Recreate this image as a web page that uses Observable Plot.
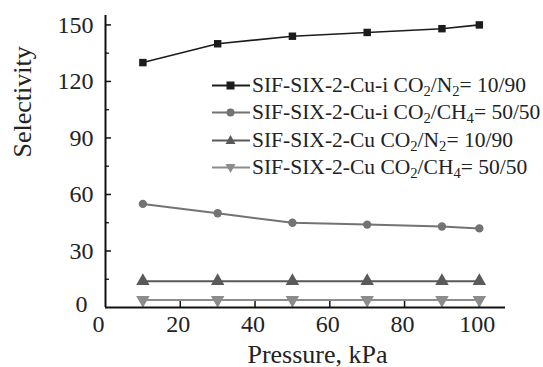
<!DOCTYPE html>
<html>
<head>
<meta charset="utf-8">
<script src="https://cdn.jsdelivr.net/npm/d3@7"></script>
<script src="https://cdn.jsdelivr.net/npm/@observablehq/plot@0.6"></script>
<style>
  html, body { margin: 0; padding: 0; background: #fff; }
  #wrap { position: relative; width: 543px; height: 367px; }
  #wrap, #wrap svg, #wrap text { font-family: "Liberation Serif", "Times New Roman", Times, serif !important; }
  #legend { position: absolute; left: 212px; top: 72px; font-size: 21.5px; color: #222; line-height: 27.3px; }
  #legend .row { display: flex; align-items: center; height: 27.3px; white-space: nowrap; }
  #legend svg { margin-right: 2px; }
  #legend sub { font-size: 0.68em; vertical-align: -0.28em; line-height: 0; }
</style>
</head>
<body>
<div id="wrap"><div id="legend"></div></div>
<script>
const pressure = [10, 30, 50, 70, 90, 100];
const cuiN2 = [130, 140, 144, 146, 148, 150];
const cuiCH4 = [55, 50, 45, 44, 43, 42];
const cuN2 = [14, 14, 14, 14, 14, 14];
const cuCH4 = [4, 4, 4, 4, 4, 4];
const seriesNames = [
  "SIF-SIX-2-Cu-i CO<sub>2</sub>/N<sub>2</sub>= 10/90",
  "SIF-SIX-2-Cu-i CO<sub>2</sub>/CH<sub>4</sub>= 50/50",
  "SIF-SIX-2-Cu CO<sub>2</sub>/N<sub>2</sub>= 10/90",
  "SIF-SIX-2-Cu CO<sub>2</sub>/CH<sub>4</sub>= 50/50"
];
const xTicks = [20, 40, 60, 80, 100];
const yTicks = [30, 60, 90, 120, 150];
const yMinor = [15, 45, 75, 105, 135];

const colors = ["#1c1c1c", "#737373", "#5a5a5a", "#8c8c8c"];

const triangleDown = {
  draw(context, size) {
    const s = Math.sqrt(size / (Math.sqrt(3) / 4));
    const h = s * Math.sqrt(3) / 2;
    context.moveTo(0, h * 2 / 3);
    context.lineTo(s / 2, -h / 3);
    context.lineTo(-s / 2, -h / 3);
    context.closePath();
  }
};
const triangleUp = {
  draw(context, size) {
    const s = Math.sqrt(size / (Math.sqrt(3) / 4));
    const h = s * Math.sqrt(3) / 2;
    context.moveTo(0, -h * 2 / 3);
    context.lineTo(s / 2, h / 3);
    context.lineTo(-s / 2, h / 3);
    context.closePath();
  }
};
const symbols = ["square", "circle", triangleUp, triangleDown];
const rs = [4.2, 4.2, 5, 5];

const allSeries = [cuiN2, cuiCH4, cuN2, cuCH4];
const data = allSeries.flatMap((vals, si) => vals.map((v, i) => ({s: si, x: pressure[i], y: v})));

const marks = [];
allSeries.forEach((vals, si) => {
  const d = data.filter(e => e.s === si);
  marks.push(Plot.line(d, {x: "x", y: "y", stroke: colors[si], strokeWidth: si === 0 ? 1.6 : 2}));
});
allSeries.forEach((vals, si) => {
  const d = data.filter(e => e.s === si);
  marks.push(Plot.dot(d, {x: "x", y: "y", fill: colors[si], stroke: "none", symbol: () => symbols[si], r: rs[si]}));
});

const chart = Plot.plot({
  width: 543,
  height: 367,
  marginLeft: 105,
  marginRight: 38,
  marginTop: 15,
  marginBottom: 60,
  style: {fontFamily: "'Liberation Serif', 'Times New Roman', serif", background: "white", color: "#222"},
  x: {domain: [0, 107]},
  y: {domain: [0, 155]},
  symbol: {type: "identity"},
  marks: [
    Plot.axisX(xTicks, {tickSize: 0, tickPadding: 7, fontSize: 24, label: null, dx: -2}),
    Plot.axisX([0], {tickSize: 0, tickPadding: 7, fontSize: 24, label: null, dx: -7}),
    Plot.axisY(yTicks, {tickSize: 0, tickPadding: 12, fontSize: 24, label: null}),
    Plot.axisY([0], {tickSize: 0, tickPadding: 18, fontSize: 24, label: null, dy: -3}),
    Plot.tickX(xTicks, {x: d => d, insetTop: 286, stroke: "#111", strokeWidth: 1.5}),
    Plot.tickY(yTicks, {y: d => d, insetRight: 394, stroke: "#111", strokeWidth: 1.5}),
    Plot.tickY(yMinor, {y: d => d, insetRight: 396, stroke: "#111", strokeWidth: 1.3}),
    ...marks,
    Plot.ruleX([0], {stroke: "#111", strokeWidth: 2}),
    Plot.ruleY([0], {stroke: "#111", strokeWidth: 2}),
    Plot.text(["Pressure, kPa"], {frameAnchor: "bottom", lineAnchor: "bottom", dy: 55, dx: 12, fontSize: 26, fill: "#222"}),
    Plot.text(["Selectivity"], {frameAnchor: "left", rotate: -90, dx: -83, dy: -4, fontSize: 26, fill: "#222"})
  ]
});
document.getElementById("wrap").prepend(chart);

const legend = document.getElementById("legend");
const legendSymbols = [
  '<rect x="14.5" y="4.5" width="8" height="8"/>',
  '<circle cx="18.5" cy="8.5" r="4"/>',
  '<path d="M18.5,3 L23.5,12 L13.5,12 Z"/>',
  '<path d="M18.5,14 L23.5,5 L13.5,5 Z"/>'
];
seriesNames.forEach((name, i) => {
  const row = document.createElement("div");
  row.className = "row";
  row.innerHTML = `<svg width="38" height="17" style="fill:${colors[i]}"><line x1="0" x2="38" y1="8.5" y2="8.5" stroke="${colors[i]}" stroke-width="2"/>${legendSymbols[i]}</svg><span>${name}</span>`;
  legend.appendChild(row);
});
</script>
</body>
</html>
